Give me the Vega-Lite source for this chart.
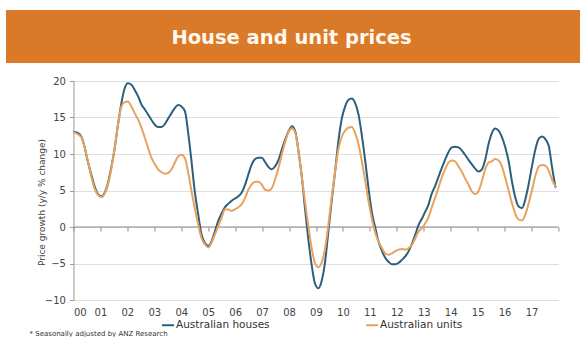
{
  "$schema": "https://vega.github.io/schema/vega-lite/v6.json",
  "background": "white",
  "padding": {"left": 6, "top": 10, "right": 0, "bottom": 0},
  "config": {
    "view": {"stroke": null},
    "font": "DejaVu Sans",
    "axisY": {
      "domain": true, "domainColor": "#9a9a9a", "ticks": true, "tickSize": 4, "tickColor": "#9a9a9a",
      "grid": true, "gridColor": "#dedede", "labelFontSize": 10, "labelColor": "#444", "labelPadding": 4,
      "titleFontSize": 9, "titleFontWeight": "normal", "titleColor": "#444", "titleX": -27, "titleY": 121
    }
  },
  "spacing": 13,
  "center": true,
  "vconcat": [
    {
      "width": 621,
      "height": 53,
      "view": {"fill": "#DA7A28", "stroke": null},
      "data": {"values": [{"label": "House and unit prices"}]},
      "mark": {"type": "text", "font": "DejaVu Sans", "fontWeight": "bold", "fontSize": 19.5, "color": "#FFF8EE", "align": "center", "baseline": "middle", "dy": 1, "dx": -25},
      "encoding": {"text": {"field": "label"}}
    },
    {
      "width": 485,
      "height": 219,
      "title": {"text": "* Seasonally adjusted by ANZ Research", "orient": "bottom", "anchor": "start", "frame": "group", "dx": -44, "offset": 13, "fontSize": 7, "fontWeight": "normal", "color": "#333", "font": "DejaVu Sans"},
      "resolve": {"axis": {"x": "independent"}},
      "layer": [
        {
          "data": {"values": [{"zero": 0}]},
          "mark": {"type": "rule", "color": "#8a8a8a", "strokeWidth": 1},
          "encoding": {
            "x": {"datum": 2000, "type": "quantitative", "scale": {"domain": [2000, 2018], "nice": false, "zero": false},
              "axis": {"orient": "bottom", "offset": -73, "domain": false, "ticks": true, "tickSize": 4, "tickColor": "#8a8a8a", "labels": false, "grid": false, "title": null,
                "values": [2000,2001,2002,2003,2004,2005,2006,2007,2008,2009,2010,2011,2012,2013,2014,2015,2016,2017,2018]}},
            "x2": {"datum": 2018},
            "y": {"field": "zero", "type": "quantitative", "scale": {"domain": [-10, 20], "nice": false},
              "axis": {"title": "Price growth (y/y % change)", "values": [-10, -5, 0, 5, 10, 15, 20]}}
          }
        },
        {
          "data": {"values": [
            {"t": 2000.00, "h": 13.0, "u": 13.0},
            {"t": 2000.16, "h": 12.9, "u": 12.7},
            {"t": 2000.29, "h": 12.4, "u": 12.3},
            {"t": 2000.41, "h": 11.0, "u": 11.0},
            {"t": 2000.53, "h": 9.0, "u": 9.1},
            {"t": 2000.66, "h": 7.2, "u": 6.9},
            {"t": 2000.78, "h": 5.6, "u": 5.3},
            {"t": 2000.91, "h": 4.5, "u": 4.4},
            {"t": 2001.03, "h": 4.2, "u": 4.1},
            {"t": 2001.16, "h": 4.7, "u": 4.6},
            {"t": 2001.28, "h": 6.0, "u": 5.8},
            {"t": 2001.40, "h": 8.1, "u": 7.9},
            {"t": 2001.53, "h": 10.8, "u": 10.8},
            {"t": 2001.65, "h": 14.0, "u": 14.0},
            {"t": 2001.78, "h": 17.0, "u": 16.5},
            {"t": 2001.90, "h": 19.0, "u": 17.1},
            {"t": 2002.02, "h": 19.7, "u": 17.2},
            {"t": 2002.15, "h": 19.5, "u": 16.5},
            {"t": 2002.27, "h": 18.8, "u": 15.6},
            {"t": 2002.40, "h": 17.9, "u": 14.7},
            {"t": 2002.52, "h": 16.8, "u": 13.6},
            {"t": 2002.65, "h": 16.1, "u": 12.2},
            {"t": 2002.77, "h": 15.4, "u": 10.8},
            {"t": 2002.89, "h": 14.7, "u": 9.5},
            {"t": 2003.02, "h": 14.0, "u": 8.6},
            {"t": 2003.14, "h": 13.7, "u": 7.9},
            {"t": 2003.27, "h": 13.7, "u": 7.5},
            {"t": 2003.39, "h": 14.1, "u": 7.3},
            {"t": 2003.52, "h": 14.9, "u": 7.4},
            {"t": 2003.64, "h": 15.6, "u": 7.9},
            {"t": 2003.76, "h": 16.3, "u": 8.8},
            {"t": 2003.89, "h": 16.7, "u": 9.7},
            {"t": 2004.01, "h": 16.5, "u": 9.9},
            {"t": 2004.14, "h": 15.8, "u": 9.4},
            {"t": 2004.25, "h": 13.1, "u": 7.6},
            {"t": 2004.38, "h": 9.0, "u": 4.9},
            {"t": 2004.50, "h": 4.9, "u": 2.6},
            {"t": 2004.63, "h": 1.7, "u": 0.3},
            {"t": 2004.75, "h": -1.0, "u": -1.5},
            {"t": 2004.88, "h": -2.2, "u": -2.4},
            {"t": 2005.00, "h": -2.6, "u": -2.8},
            {"t": 2005.12, "h": -2.0, "u": -2.2},
            {"t": 2005.25, "h": -0.6, "u": -1.0},
            {"t": 2005.37, "h": 0.8, "u": 0.1},
            {"t": 2005.50, "h": 1.9, "u": 1.3},
            {"t": 2005.62, "h": 2.7, "u": 2.4},
            {"t": 2005.75, "h": 3.2, "u": 2.4},
            {"t": 2005.87, "h": 3.6, "u": 2.2},
            {"t": 2005.99, "h": 3.9, "u": 2.4},
            {"t": 2006.12, "h": 4.2, "u": 2.7},
            {"t": 2006.24, "h": 4.7, "u": 3.1},
            {"t": 2006.37, "h": 5.8, "u": 4.0},
            {"t": 2006.49, "h": 7.2, "u": 5.1},
            {"t": 2006.61, "h": 8.5, "u": 5.8},
            {"t": 2006.74, "h": 9.3, "u": 6.2},
            {"t": 2006.86, "h": 9.5, "u": 6.2},
            {"t": 2006.99, "h": 9.5, "u": 5.8},
            {"t": 2007.11, "h": 8.9, "u": 5.1},
            {"t": 2007.24, "h": 8.2, "u": 5.0},
            {"t": 2007.36, "h": 7.9, "u": 5.3},
            {"t": 2007.48, "h": 8.3, "u": 6.5},
            {"t": 2007.61, "h": 9.2, "u": 8.1},
            {"t": 2007.73, "h": 10.6, "u": 9.9},
            {"t": 2007.86, "h": 12.0, "u": 11.7},
            {"t": 2007.98, "h": 13.1, "u": 13.0},
            {"t": 2008.11, "h": 13.8, "u": 13.5},
            {"t": 2008.23, "h": 13.1, "u": 12.9},
            {"t": 2008.35, "h": 10.4, "u": 10.4},
            {"t": 2008.48, "h": 6.7, "u": 6.7},
            {"t": 2008.59, "h": 2.6, "u": 3.5},
            {"t": 2008.71, "h": -1.5, "u": 0.3},
            {"t": 2008.84, "h": -5.2, "u": -2.9},
            {"t": 2008.96, "h": -7.7, "u": -4.9},
            {"t": 2009.09, "h": -8.4, "u": -5.5},
            {"t": 2009.21, "h": -7.4, "u": -4.9},
            {"t": 2009.34, "h": -4.7, "u": -2.9},
            {"t": 2009.46, "h": -0.6, "u": 0.3},
            {"t": 2009.58, "h": 3.5, "u": 4.0},
            {"t": 2009.71, "h": 7.6, "u": 7.6},
            {"t": 2009.83, "h": 11.7, "u": 10.6},
            {"t": 2009.96, "h": 14.9, "u": 12.4},
            {"t": 2010.08, "h": 16.5, "u": 13.2},
            {"t": 2010.20, "h": 17.4, "u": 13.6},
            {"t": 2010.33, "h": 17.6, "u": 13.7},
            {"t": 2010.45, "h": 17.0, "u": 12.9},
            {"t": 2010.58, "h": 15.4, "u": 11.3},
            {"t": 2010.70, "h": 12.6, "u": 9.0},
            {"t": 2010.83, "h": 9.0, "u": 6.3},
            {"t": 2010.95, "h": 5.3, "u": 3.5},
            {"t": 2011.07, "h": 2.1, "u": 1.2},
            {"t": 2011.20, "h": -0.1, "u": -0.8},
            {"t": 2011.32, "h": -2.0, "u": -2.0},
            {"t": 2011.45, "h": -3.3, "u": -2.9},
            {"t": 2011.57, "h": -4.2, "u": -3.6},
            {"t": 2011.70, "h": -4.8, "u": -3.8},
            {"t": 2011.82, "h": -5.1, "u": -3.6},
            {"t": 2011.94, "h": -5.1, "u": -3.3},
            {"t": 2012.07, "h": -4.9, "u": -3.1},
            {"t": 2012.19, "h": -4.5, "u": -3.0},
            {"t": 2012.32, "h": -4.0, "u": -3.1},
            {"t": 2012.44, "h": -3.3, "u": -2.9},
            {"t": 2012.57, "h": -2.2, "u": -2.4},
            {"t": 2012.69, "h": -1.0, "u": -1.5},
            {"t": 2012.81, "h": 0.3, "u": -0.6},
            {"t": 2012.94, "h": 1.2, "u": -0.1},
            {"t": 2013.04, "h": 2.0, "u": 0.4},
            {"t": 2013.17, "h": 3.0, "u": 1.3},
            {"t": 2013.29, "h": 4.5, "u": 2.6},
            {"t": 2013.42, "h": 5.6, "u": 4.0},
            {"t": 2013.54, "h": 6.8, "u": 5.3},
            {"t": 2013.66, "h": 8.0, "u": 6.7},
            {"t": 2013.79, "h": 9.2, "u": 7.9},
            {"t": 2013.91, "h": 10.2, "u": 8.8},
            {"t": 2014.04, "h": 10.9, "u": 9.1},
            {"t": 2014.16, "h": 11.0, "u": 9.0},
            {"t": 2014.29, "h": 10.9, "u": 8.3},
            {"t": 2014.41, "h": 10.5, "u": 7.6},
            {"t": 2014.53, "h": 9.9, "u": 6.7},
            {"t": 2014.66, "h": 9.2, "u": 5.8},
            {"t": 2014.78, "h": 8.6, "u": 4.9},
            {"t": 2014.91, "h": 8.0, "u": 4.5},
            {"t": 2015.03, "h": 7.6, "u": 4.9},
            {"t": 2015.16, "h": 7.9, "u": 6.3},
            {"t": 2015.28, "h": 9.2, "u": 7.9},
            {"t": 2015.40, "h": 11.3, "u": 8.8},
            {"t": 2015.53, "h": 12.9, "u": 9.0},
            {"t": 2015.65, "h": 13.5, "u": 9.3},
            {"t": 2015.78, "h": 13.2, "u": 9.1},
            {"t": 2015.90, "h": 12.3, "u": 8.3},
            {"t": 2016.02, "h": 11.0, "u": 6.8},
            {"t": 2016.15, "h": 9.0, "u": 5.0},
            {"t": 2016.27, "h": 6.3, "u": 3.3},
            {"t": 2016.40, "h": 4.0, "u": 1.8},
            {"t": 2016.52, "h": 2.8, "u": 1.0},
            {"t": 2016.65, "h": 2.6, "u": 0.9},
            {"t": 2016.77, "h": 3.8, "u": 1.7},
            {"t": 2016.89, "h": 5.8, "u": 3.2},
            {"t": 2017.02, "h": 8.4, "u": 5.1},
            {"t": 2017.14, "h": 10.6, "u": 7.0},
            {"t": 2017.27, "h": 12.1, "u": 8.3},
            {"t": 2017.39, "h": 12.4, "u": 8.5},
            {"t": 2017.52, "h": 12.0, "u": 8.4},
            {"t": 2017.64, "h": 11.1, "u": 7.7},
            {"t": 2017.76, "h": 8.2, "u": 6.5},
            {"t": 2017.89, "h": 5.4, "u": 5.5}
          ]},
          "transform": [
            {"fold": ["h", "u"], "as": ["key", "value"]}
          ],
          "mark": {"type": "line", "strokeWidth": 2, "interpolate": "monotone"},
          "encoding": {
            "x": {"field": "t", "type": "quantitative", "scale": {"domain": [2000, 2018], "nice": false, "zero": false},
              "axis": {"orient": "bottom", "domain": false, "ticks": false, "grid": false, "title": null, "labelPadding": 7, "labelFontSize": 10, "labelColor": "#444",
                "values": [2000,2001,2002,2003,2004,2005,2006,2007,2008,2009,2010,2011,2012,2013,2014,2015,2016,2017],
                "labelExpr": "(datum.value - 2000 < 10 ? '0' : '') + (datum.value - 2000)"}},
            "y": {"field": "value", "type": "quantitative", "scale": {"domain": [-10, 20], "nice": false},
              "axis": {"title": "Price growth (y/y % change)", "values": [-10, -5, 0, 5, 10, 15, 20]}},
            "color": {"field": "key", "type": "nominal",
              "scale": {"domain": ["h", "u"], "range": ["#2C5F7C", "#E9A25E"]},
              "legend": {"orient": "none", "legendX": 155, "legendY": 308, "direction": "horizontal", "title": null,
                "symbolType": "stroke", "symbolSize": 144, "symbolStrokeWidth": 2, "labelFontSize": 10.5, "labelColor": "#333",
                "labelOffset": 1, "columnPadding": 92, "padding": 0,
                "labelExpr": "datum.value == 'h' ? 'Australian houses' : 'Australian units'"}}
          }
        }
      ]
    }
  ]
}
